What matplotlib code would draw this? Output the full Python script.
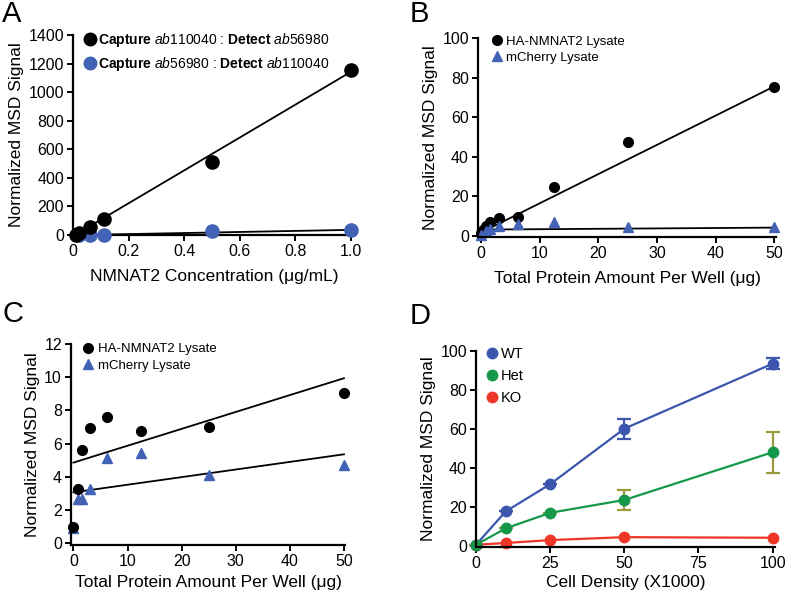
import matplotlib
matplotlib.use('Agg')
import matplotlib.pyplot as plt
from matplotlib.lines import Line2D
import numpy as np

plt.rcParams['font.family'] = ['Liberation Sans', 'DejaVu Sans']
plt.rcParams['mathtext.fontset'] = 'custom'
plt.rcParams['mathtext.rm'] = 'Liberation Sans'
plt.rcParams['mathtext.it'] = 'Liberation Sans:italic'
plt.rcParams['mathtext.bf'] = 'Liberation Sans:bold'

# --- Panel A: antibody pair titration ---
a_conc = [0.01, 0.02, 0.06, 0.11, 0.5, 1.0]
a_pair1 = [0, 15, 57, 110, 510, 1152]
a_pair2 = [0, 0, 0, 0, 28, 37]
a_fit1 = (1150, -8)   # slope, intercept
a_fit2 = (37, -1)

# --- Panel B: lysate titration, wide range ---
b_amount_ha = [0, 0.39, 0.78, 1.56, 3.125, 6.25, 12.5, 25, 50]
b_ha = [1.5, 3, 5, 6.8, 9, 9.3, 24.8, 47.2, 75.4]
b_amount_mc = [0, 0.78, 1.56, 3.125, 6.25, 12.5, 25, 50]
b_mc = [0.5, 2.5, 3.5, 4.7, 5.7, 6.6, 4.4, 4.4]
b_fit_ha = (1.48, 1.5)
b_fit_mc = (0.02, 3.0)

# --- Panel C: lysate titration, low signal ---
c_amount = [0, 0.78, 1.56, 3.125, 6.25, 12.5, 25, 50]
c_ha = [1.0, 3.27, 5.62, 6.95, 7.6, 6.75, 7.0, 9.04]
c_mc = [0.9, 2.67, 2.67, 3.25, 5.16, 5.42, 4.12, 4.74]
c_fit_ha = (0.1016, 4.86)
c_fit_mc = (0.0458, 3.07)

# --- Panel D: cell density ---
d_density = [0, 10, 25, 50, 100]
d_wt = [0.5, 17.6, 31.6, 60.1, 93.5]
d_wt_err = [0, 0, 0, 5.1, 3.0]
d_het = [0.5, 8.9, 16.9, 23.5, 48.0]
d_het_err = [0, 0, 0, 4.9, 10.6]
d_ko = [0.5, 1.4, 2.9, 4.4, 4.1]

W, H = 787, 594
fig = plt.figure(figsize=(W / 100, H / 100), dpi=100)

blue = '#4262b6'
wt_c = '#3c56ae'
het_c = '#16984a'
ko_c = '#ee3626'
het_err_c = '#9c9a3e'

TICK_FS = 11.5
LABEL_FS = 12.5


def px_axes(l, r, b, t):
    ax = fig.add_axes([l / W, 1 - b / H, (r - l) / W, (b - t) / H])
    for s in ['top', 'right']:
        ax.spines[s].set_visible(False)
    for s in ['left', 'bottom']:
        ax.spines[s].set_linewidth(1.6)
    ax.tick_params(direction='out', length=4.5, width=1.4, labelsize=TICK_FS, pad=2)
    ax.set_ylabel('Normalized MSD Signal', fontsize=LABEL_FS, labelpad=3)
    return ax


def fit_line(ax, x, p, **kw):
    xs = np.array([min(x), max(x)])
    ax.plot(xs, p[0] * xs + p[1], color='black', lw=1.3, **kw)


# Panel A
ax = px_axes(73, 355, 235, 35)
fit_line(ax, a_conc, a_fit1, zorder=2)
fit_line(ax, a_conc, a_fit2, zorder=2)
ax.plot(a_conc[1:], a_pair2[1:], 'o', color=blue, ms=9.5, clip_on=False, zorder=3,
        label=r'$\bf{Capture}$ $\it{ab56980}$ : $\bf{Detect}$ $\it{ab110040}$')
ax.plot(a_conc, a_pair1, 'o', color='black', ms=9.5, clip_on=False, zorder=4,
        label=r'$\bf{Capture}$ $\it{ab110040}$ : $\bf{Detect}$ $\it{ab56980}$')
ax.set_xlim(0, 1.015)
ax.set_ylim(0, 1400)
ax.set_xticks([0, 0.2, 0.4, 0.6, 0.8, 1.0])
ax.set_xticklabels(['0', '0.2', '0.4', '0.6', '0.8', '1.0'])
ax.set_yticks(range(0, 1401, 200))
ax.set_xlabel(u'NMNAT2 Concentration (\u03bcg/mL)', fontsize=LABEL_FS, labelpad=7)
h, l = ax.get_legend_handles_labels()
ax.legend(h[::-1], l[::-1], loc='upper left', bbox_to_anchor=(0.01, 1.05), frameon=False,
          fontsize=10, handletextpad=0.0, labelspacing=0.45, borderaxespad=0,
          handlelength=1.2, markerscale=0.95)

# Panel B
ax = px_axes(478, 776, 237, 38)
fit_line(ax, b_amount_ha, b_fit_ha)
fit_line(ax, b_amount_mc, b_fit_mc)
ax.plot(b_amount_ha, b_ha, 'o', color='black', ms=7, clip_on=False, label='HA-NMNAT2 Lysate')
ax.plot(b_amount_mc, b_mc, '^', color=blue, ms=7, clip_on=False, label='mCherry Lysate')
ax.set_xlim(-0.51, 50.3)
ax.set_ylim(-0.75, 100)
ax.set_xticks(range(0, 51, 10))
ax.set_yticks(range(0, 101, 20))
ax.set_xlabel(u'Total Protein Amount Per Well (\u03bcg)', fontsize=LABEL_FS, labelpad=7)
ax.legend(loc='upper left', bbox_to_anchor=(0.02, 1.04), frameon=False,
          fontsize=9.5, handletextpad=0.1, labelspacing=0.3, borderaxespad=0,
          handlelength=1.2)

# Panel C
ax = px_axes(71, 345, 545, 344)
fit_line(ax, c_amount, c_fit_ha)
fit_line(ax, c_amount, c_fit_mc)
ax.plot(c_amount, c_mc, '^', color=blue, ms=7, clip_on=False, label='mCherry Lysate')
ax.plot(c_amount, c_ha, 'o', color='black', ms=7, clip_on=False, label='HA-NMNAT2 Lysate')
ax.set_xlim(-0.45, 50.2)
ax.set_ylim(-0.1, 12)
ax.set_xticks(range(0, 51, 10))
ax.set_yticks(range(0, 13, 2))
ax.set_xlabel(u'Total Protein Amount Per Well (\u03bcg)', fontsize=LABEL_FS, labelpad=4)
h, l = ax.get_legend_handles_labels()
ax.legend(h[::-1], l[::-1], loc='upper left', bbox_to_anchor=(0.015, 1.03), frameon=False,
          fontsize=9.5, handletextpad=0.1, labelspacing=0.3, borderaxespad=0,
          handlelength=1.2)

# Panel D
ax = px_axes(476, 775, 547, 351)
ax.errorbar(d_density, d_wt, yerr=d_wt_err, fmt='-o', color=wt_c, ecolor=wt_c, ms=7.5,
            lw=1.6, elinewidth=1.6, capsize=5, capthick=1.6, clip_on=False)
ax.errorbar(d_density, d_het, yerr=d_het_err, fmt='-o', color=het_c, ecolor=het_err_c, ms=7.5,
            lw=1.6, elinewidth=1.6, capsize=5, capthick=1.6, clip_on=False)
ax.plot(d_density, d_ko, '-o', color=ko_c, ms=7.5, lw=1.6, clip_on=False)
ax.set_xlim(0, 100.8)
ax.set_ylim(-0.65, 100)
ax.set_xticks([0, 25, 50, 75, 100])
ax.set_yticks(range(0, 101, 20))
ax.set_xlabel('Cell Density (X1000)', fontsize=LABEL_FS, labelpad=3)
handles = [Line2D([], [], ls='none', marker='o', color=c, ms=7.5) for c in (wt_c, het_c, ko_c)]
ax.legend(handles, ['WT', 'Het', 'KO'], loc='upper left', bbox_to_anchor=(0.01, 1.05),
          frameon=False, fontsize=10.5, handletextpad=0.1, labelspacing=0.55,
          borderaxespad=0, handlelength=1.0)

# panel letters
for letter, x, y in [('A', 2, 0), ('B', 410, 0), ('C', 3, 300), ('D', 410, 302)]:
    fig.text(x / W, 1 - y / H, letter, fontsize=21, va='top', ha='left')

fig.savefig('out.png', dpi=100)
